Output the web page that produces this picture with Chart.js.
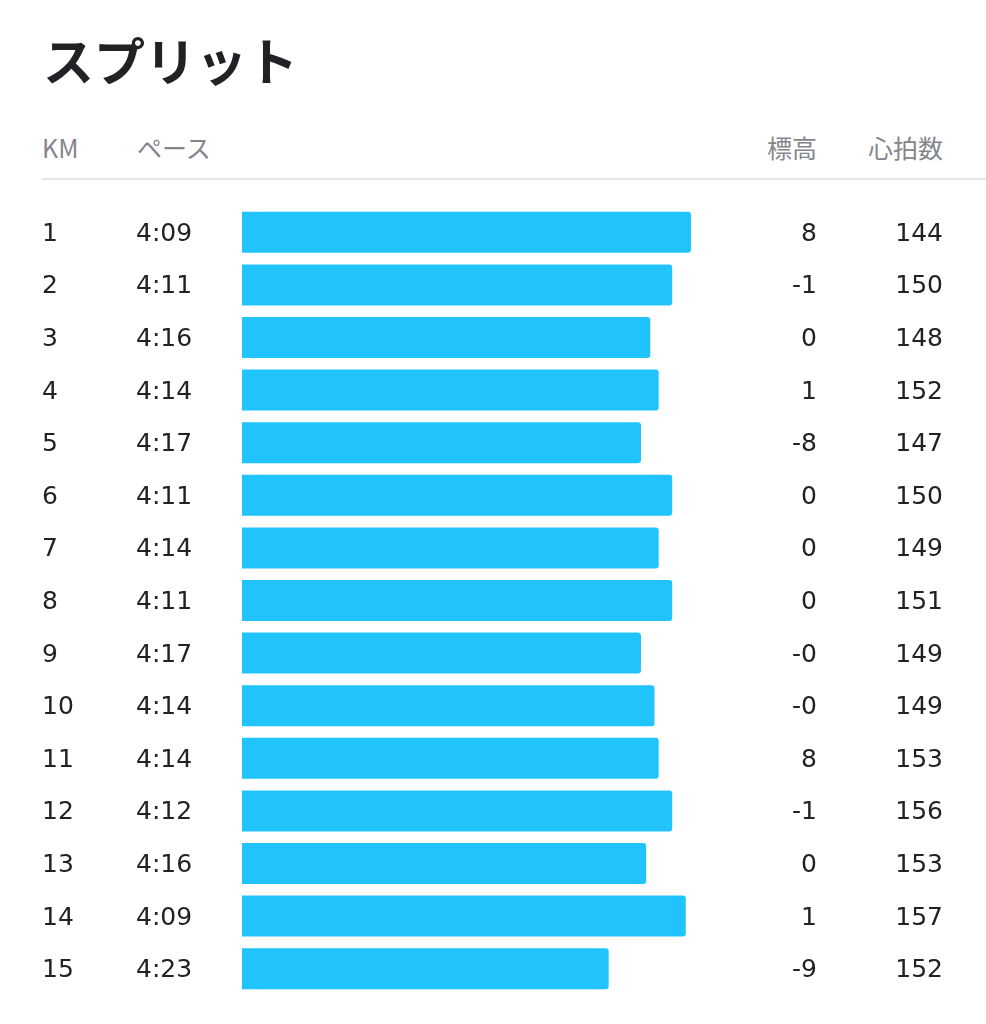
<!DOCTYPE html>
<html lang="ja">
<head>
<meta charset="utf-8">
<title>スプリット</title>
<script src="https://cdn.jsdelivr.net/npm/chart.js@4"></script>
<style>
  html, body { margin: 0; padding: 0; background: #fff; }
  body { width: 986px; height: 1024px; position: relative; overflow: hidden;
    font-family: "Noto Sans CJK JP", "Noto Sans", sans-serif; }
  #title { position: absolute; left: 43px; top: 22px; margin: 0;
    font-size: 51px; font-weight: 700; color: #222226; line-height: 74px; }
  .head { position: absolute; top: 130px; font-size: 25px; color: #85858c; line-height: 34px; font-weight: 400; }
  #rule { position: absolute; left: 42px; right: 0; top: 178px; height: 2px; background: #e4e4ea; }
  #wrap { position: absolute; left: 0; top: 0; width: 986px; height: 1024px; }
</style>
</head>
<body>
<h1 id="title">スプリット</h1>
<div class="head" style="left:42px">KM</div>
<div class="head" style="left:137px">ペース</div>
<div class="head" style="right:169px">標高</div>
<div class="head" style="right:43px">心拍数</div>
<div id="rule"></div>
<div id="wrap"><canvas id="split-chart"></canvas></div>
<script>
// one row per kilometre
const KM = ['1', '2', '3', '4', '5', '6', '7', '8', '9', '10', '11', '12', '13', '14', '15'];
const PACE = ['4:09', '4:11', '4:16', '4:14', '4:17', '4:11', '4:14', '4:11', '4:17', '4:14', '4:14', '4:12', '4:16', '4:09', '4:23'];
// bar length = speed (km/h), estimated from the bars
const SPEED = [14.51, 14.33, 14.12, 14.20, 14.03, 14.33, 14.20, 14.33, 14.03, 14.16, 14.20, 14.33, 14.08, 14.46, 13.72];
const ELEVATION = ['8', '-1', '0', '1', '-8', '0', '0', '0', '-0', '-0', '8', '-1', '0', '1', '-9'];
const HEART_RATE = ['144', '150', '148', '152', '147', '150', '149', '151', '149', '149', '153', '156', '153', '157', '152'];

const BAR_COLOR = '#21c3fd';
const TEXT_COLOR = '#222225';
const ROW_FONT = '25px "DejaVu Sans", "Noto Sans", sans-serif';

// text columns, placed on the rows of the y scale
const rowText = {
  id: 'rowText',
  afterDatasetsDraw(chart) {
    const { ctx, scales } = chart;
    ctx.save();
    ctx.font = ROW_FONT;
    ctx.fillStyle = TEXT_COLOR;
    ctx.textBaseline = 'middle';
    KM.forEach((km, i) => {
      const y = scales.y.getPixelForValue(i) + 2;
      ctx.textAlign = 'left';
      ctx.fillText(km, 42, y);
      ctx.fillText(PACE[i], 136, y);
      ctx.textAlign = 'right';
      ctx.fillText(ELEVATION[i], 817, y);
      ctx.fillText(HEART_RATE[i], 943, y);
    });
    ctx.restore();
  },
};

new Chart(document.getElementById('split-chart'), {
  type: 'bar',
  data: {
    labels: KM,
    datasets: [{
      data: SPEED,
      backgroundColor: BAR_COLOR,
      borderRadius: 3,
      borderSkipped: false,
      barPercentage: 0.78,
      categoryPercentage: 1,
    }],
  },
  options: {
    indexAxis: 'y',
    responsive: true,
    maintainAspectRatio: false,
    animation: false,
    events: [],
    layout: { padding: { left: 242, right: 244, top: 206, bottom: 29 } },
    scales: {
      x: { display: false, min: 10.2, max: 15.0 },
      y: { display: false },
    },
    plugins: { legend: { display: false }, tooltip: { enabled: false } },
  },
  plugins: [rowText],
});
</script>
</body>
</html>
